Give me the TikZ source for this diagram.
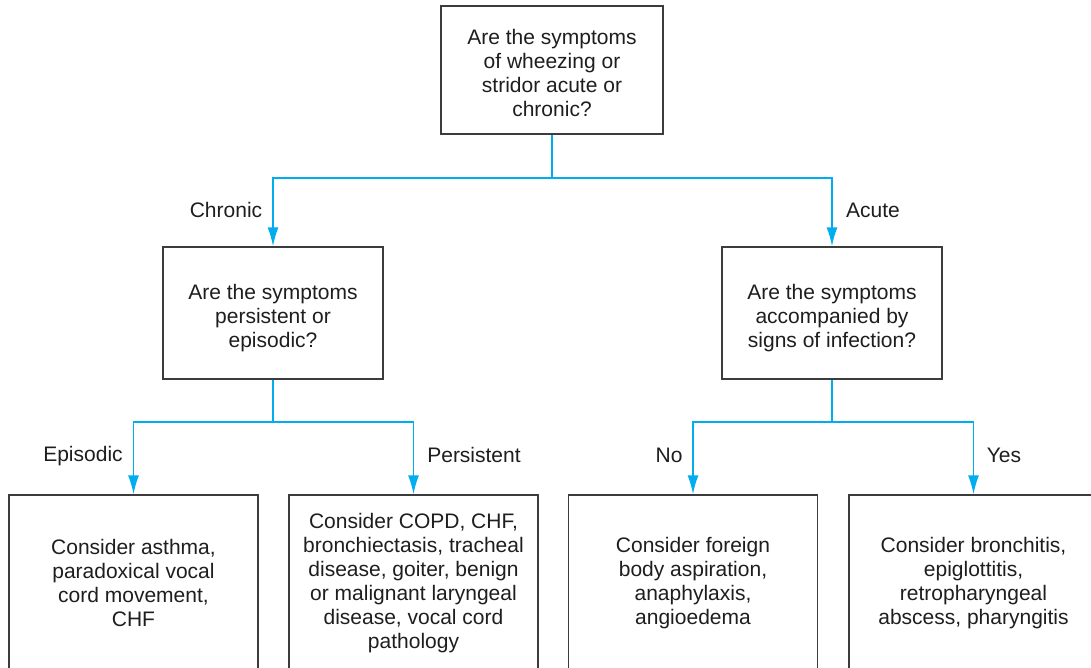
\documentclass[tikz,border=0pt]{standalone}
\usepackage{fontspec}
\setmainfont{Liberation Sans}
\usetikzlibrary{arrows.meta}
\definecolor{flowblue}{RGB}{0,174,239}
\definecolor{boxgray}{RGB}{60,60,60}
\definecolor{txtgray}{RGB}{30,30,30}
\newcommand{\pushdown}[1]{\rule{0pt}{#1}}
\begin{document}
\begin{tikzpicture}[x=1pt,y=-1pt,
  every node/.style={font=\fontsize{21}{24}\selectfont, text=txtgray},
  qbox/.style={draw=boxgray, line width=1.4pt, align=center, inner sep=0pt},
  conn/.style={draw=flowblue, line width=1.5pt},
  arr/.style={conn, -{Latex[length=19pt,width=11pt]}},
  lbl/.style={inner sep=0pt}]
\useasboundingbox (0,0) rectangle (1091,668);
\clip (0,0) rectangle (1091,668);
\fill[white] (0,0) rectangle (1091,668);

\node[qbox, minimum width=222pt, minimum height=128pt] (top) at (552,70)
  {\pushdown{21.5pt}Are the symptoms\\of wheezing or\\stridor acute or\\chronic?};
\node[qbox, minimum width=220pt, minimum height=132pt] (ml) at (273,313)
  {\pushdown{25pt}Are the symptoms\\persistent or\\episodic?};
\node[qbox, minimum width=220pt, minimum height=132pt] (mr) at (832,313)
  {\pushdown{25pt}Are the symptoms\\accompanied by\\signs of infection?};

\node[qbox, minimum width=249pt, minimum height=176pt] (b1) at (133.5,583)
  {Consider asthma,\\paradoxical vocal\\cord movement,\\CHF};
\node[qbox, minimum width=249pt, minimum height=176pt] (b2) at (413.5,583)
  {Consider COPD, CHF,\\bronchiectasis, tracheal\\disease, goiter, benign\\or malignant laryngeal\\disease, vocal cord\\pathology};
\node[qbox, minimum width=249pt, minimum height=176pt] (b3) at (693,583)
  {Consider foreign\\body aspiration,\\anaphylaxis,\\angioedema};
\node[qbox, minimum width=249pt, minimum height=176pt] (b4) at (973.5,583)
  {Consider bronchitis,\\epiglottitis,\\retropharyngeal\\abscess, pharyngitis};

\coordinate (j1) at (552,178);
\coordinate (j2) at (273,422);
\coordinate (j3) at (832,422);

\draw[conn] (top.south) -- (j1);
\draw[arr] (j1) -| (ml.north);
\draw[arr] (j1) -| (mr.north);
\draw[conn] (ml.south) -- (j2);
\draw[arr] (j2) -| (b1.north);
\draw[arr] (j2) -| (b2.north);
\draw[conn] (mr.south) -- (j3);
\draw[arr] (j3) -| (b3.north);
\draw[arr] (j3) -| (b4.north);

\node[lbl] (lchronic) at (226,210) {Chronic};
\node[lbl] (lacute) at (873,210) {Acute};
\node[lbl] (lepi) at (83,456) {Episodic};
\node[lbl] (lpers) at (474,455) {Persistent};
\node[lbl] (lno) at (669,455) {No};
\node[lbl] (lyes) at (1004,455) {Yes};
\end{tikzpicture}
\end{document}
